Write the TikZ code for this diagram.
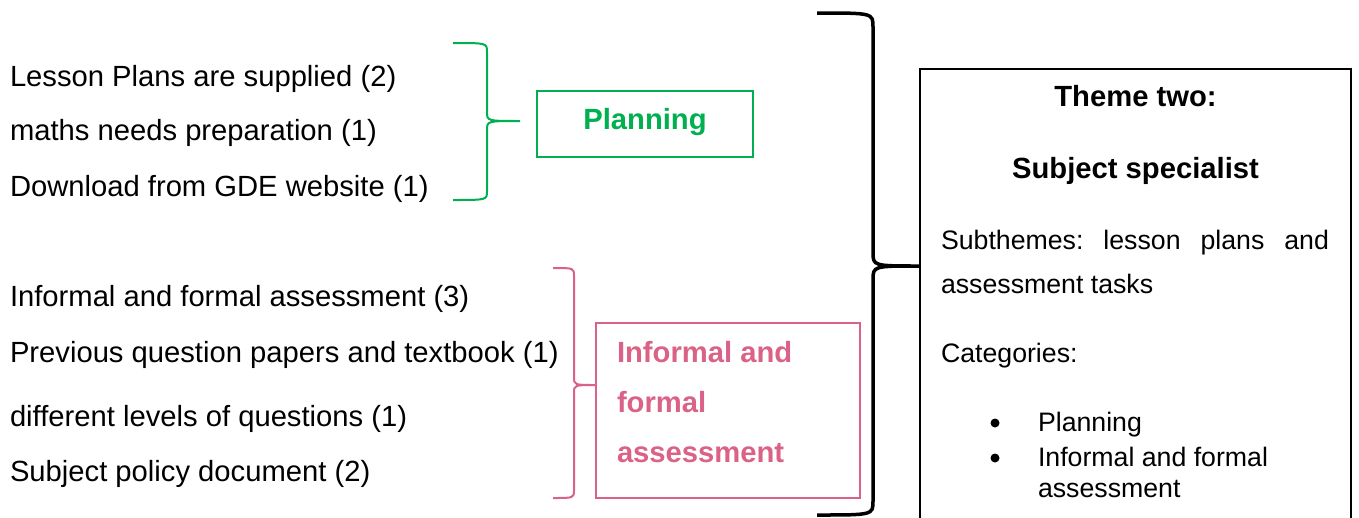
\documentclass[tikz,border=0pt]{standalone}
\usepackage{fontspec}
\setmainfont{Liberation Sans}
\definecolor{plangreen}{RGB}{0,176,80}
\definecolor{assesspink}{RGB}{218,98,135}

% right-facing curly brace:
% #1 style, #2 end x, #3 spine x, #4 tip x, #5 top y, #6 mid y, #7 bottom y, #8 curl size
\newcommand{\curlybrace}[8]{%
  \draw[#1] (#2,#5) .. controls (#3,#5) .. (#3,#5+#8)
    -- (#3,#6-#8) .. controls (#3,#6) .. (#4,#6)
    .. controls (#3,#6) .. (#3,#6+#8)
    -- (#3,#7-#8) .. controls (#3,#7) .. (#2,#7);}

\begin{document}
\begin{tikzpicture}[x=1pt,y=-1pt,
  every node/.style={inner sep=0pt, outer sep=0pt},
  item/.style={anchor=base west, font=\fontsize{29.2}{35}\selectfont},
  boxtext/.style={anchor=base west, font=\fontsize{29.2}{35}\selectfont\bfseries},
  body/.style={anchor=base west, font=\fontsize{26.7}{32}\selectfont},
  title/.style={anchor=base, font=\fontsize{29.2}{35}\selectfont\bfseries},
  dot/.style={circle, fill=black, minimum size=9pt},
  catbox/.style={draw, line width=2pt, anchor=north west}]
\path[use as bounding box, clip] (0,0) rectangle (1359,517);
\fill[white] (0,0) rectangle (1359,517);

% planning items
\node[item] (l1) at (10,86) {Lesson Plans are supplied (2)};
\node[item] (l2) at (10,140) {maths needs preparation (1)};
\node[item] (l3) at (10,196) {Download from GDE website (1)};

% assessment items
\node[item] (l4) at (10,306) {Informal and formal assessment (3)};
\node[item] (l5) at (10,362) {Previous question papers and textbook (1)};
\node[item] (l6) at (10,426) {different levels of questions (1)};
\node[item] (l7) at (10,481) {Subject policy document (2)};

% category boxes
\node[catbox, draw=plangreen, minimum width=216pt, minimum height=66pt] (plan) at (537,91) {};
\node[boxtext, anchor=base, text=plangreen] (plantxt) at (645,129) {Planning};

\node[catbox, draw=assesspink, minimum width=264pt, minimum height=175pt] (assess) at (596,323) {};
\node[boxtext, text=assesspink] (as1) at (617,362) {Informal and};
\node[boxtext, text=assesspink] (as2) at (617,412) {formal};
\node[boxtext, text=assesspink] (as3) at (617,462) {assessment};

% braces
\curlybrace{plangreen, line width=2pt}{453}{487}{520}{43}{121}{200}{9}
\curlybrace{assesspink, line width=2pt}{553}{574}{596}{268}{385}{498}{8}
\curlybrace{black, line width=3.5pt}{817}{873}{920}{13}{266}{515}{14}

% theme box
\node[draw, line width=1.3pt, anchor=north west, minimum width=431pt, minimum height=500pt] (theme) at (920,69) {};
\node[title] (t1) at (1135.5,106) {Theme two:};
\node[title] (t2) at (1135.5,178) {Subject specialist};
\node[body] (sub1) at (941,249) {\makebox[388pt][l]{Subthemes:\hfill lesson\hfill plans\hfill and}};
\node[body] (sub2) at (941,293) {assessment tasks};
\node[body] (cat) at (941,362) {Categories:};
\node[dot] (b1) at (995,423) {};
\node[body] (c1) at (1038,431) {Planning};
\node[dot] (b2) at (995,458) {};
\node[body] (c2) at (1038,466) {Informal and formal};
\node[body] (c3) at (1038,497) {assessment};
\end{tikzpicture}
\end{document}
